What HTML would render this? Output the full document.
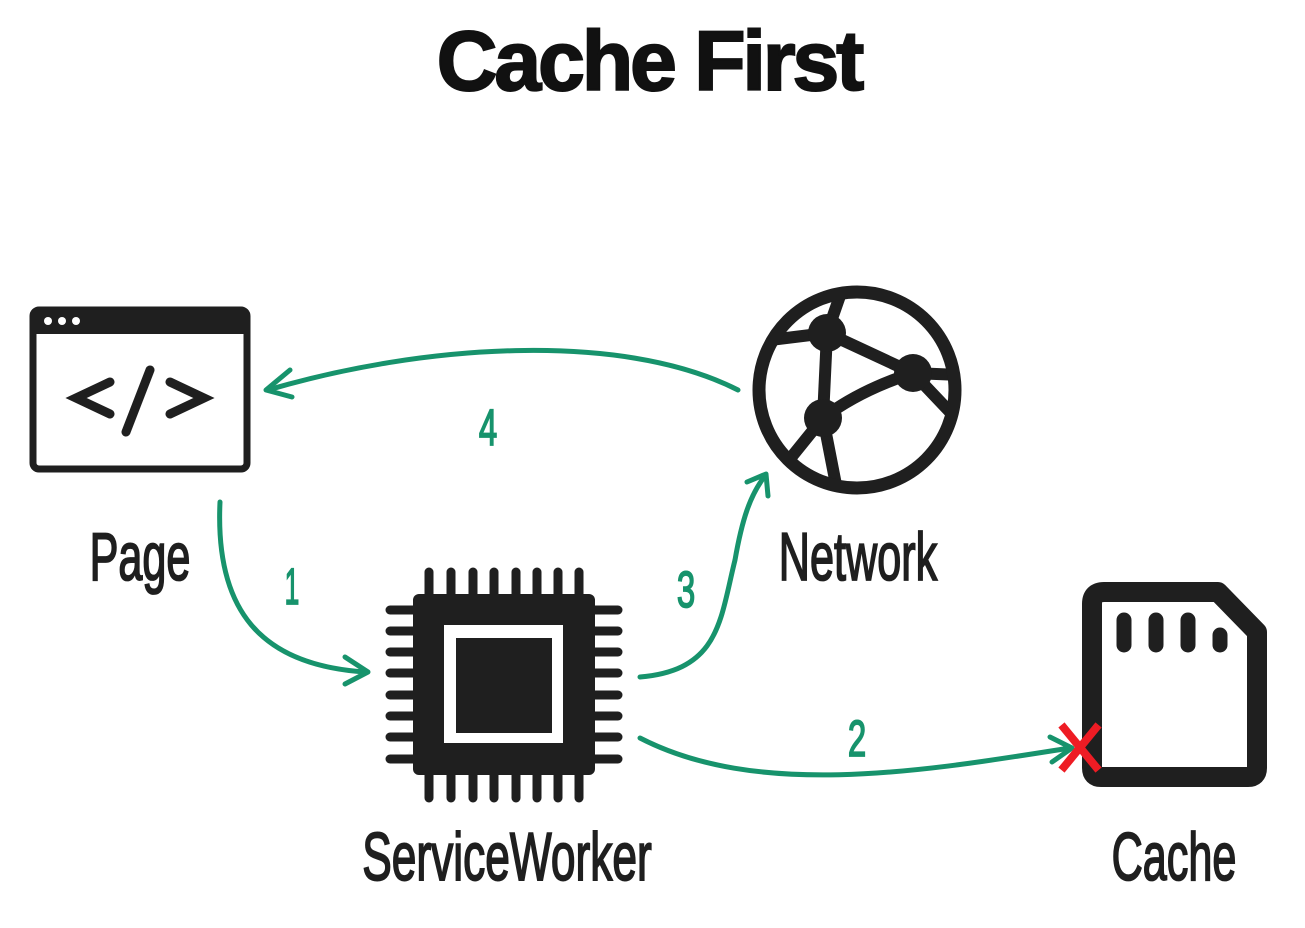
<!DOCTYPE html>
<html><head><style>
html,body{margin:0;padding:0;background:#fff;}
svg{display:block}
.lbl{font-family:"Liberation Sans",sans-serif;font-size:54px;fill:#1f1f1f;stroke:#1f1f1f;stroke-width:1.5px;}
.num{font-family:"Liberation Sans",sans-serif;font-size:44px;fill:#17936c;stroke:#17936c;stroke-width:1.5px;}
</style></head><body>
<svg width="1305" height="928" viewBox="0 0 1305 928" xmlns="http://www.w3.org/2000/svg">
<defs><clipPath id="gc"><circle cx="857" cy="390" r="100"/></clipPath></defs>
<text x="649" y="90" text-anchor="middle" font-family="Liberation Sans,sans-serif" font-weight="bold" font-size="84" fill="#111" stroke="#111" stroke-width="2" letter-spacing="-3">Cache First</text>
<!-- page window -->
<rect x="33" y="310" width="214" height="159" rx="6" fill="#fff" stroke="#1f1f1f" stroke-width="7"/>
<rect x="33" y="310" width="214" height="24" fill="#1f1f1f"/>
<circle cx="48" cy="321" r="4" fill="#fff"/><circle cx="62" cy="321" r="4" fill="#fff"/><circle cx="76" cy="321" r="4" fill="#fff"/>
<g stroke="#1f1f1f" stroke-width="9" stroke-linecap="round" fill="none">
<polyline points="110,382 76,398 110,414"/><line x1="150" y1="370" x2="126" y2="432"/><polyline points="170,382 204,398 170,414"/>
</g>
<!-- globe -->
<g stroke="#1f1f1f" stroke-width="12" fill="none" clip-path="url(#gc)">
<path d="M827 333 L913 373 M827 333 L823 418 M823 418 Q860 390 913 373"/>
<path d="M827 333 L842 290 M827 333 L770 340 M913 373 L960 375 M913 373 L950 412 M823 418 L785 465 M823 418 L838 495"/>
</g>
<circle cx="857" cy="390" r="98" fill="none" stroke="#1f1f1f" stroke-width="13"/>
<circle cx="827" cy="333" r="19" fill="#1f1f1f"/><circle cx="913" cy="373" r="19" fill="#1f1f1f"/><circle cx="823" cy="418" r="19" fill="#1f1f1f"/>
<!-- chip -->
<g stroke="#1f1f1f" stroke-width="9" stroke-linecap="round">
<g id="pt"><line x1="429" y1="572" x2="429" y2="600"/><line x1="451" y1="572" x2="451" y2="600"/><line x1="473" y1="572" x2="473" y2="600"/><line x1="494" y1="572" x2="494" y2="600"/><line x1="516" y1="572" x2="516" y2="600"/><line x1="537" y1="572" x2="537" y2="600"/><line x1="558" y1="572" x2="558" y2="600"/><line x1="579" y1="572" x2="579" y2="600"/></g>
<use href="#pt" transform="translate(0,198)"/>
<g id="pl"><line x1="390" y1="610" x2="420" y2="610"/><line x1="390" y1="631" x2="420" y2="631"/><line x1="390" y1="652" x2="420" y2="652"/><line x1="390" y1="673" x2="420" y2="673"/><line x1="390" y1="695" x2="420" y2="695"/><line x1="390" y1="716" x2="420" y2="716"/><line x1="390" y1="737" x2="420" y2="737"/><line x1="390" y1="759" x2="420" y2="759"/></g>
<use href="#pl" transform="translate(198,0)"/>
</g>
<rect x="413" y="594" width="182" height="181" rx="6" fill="#1f1f1f"/>
<rect x="444" y="625" width="119" height="118" fill="#fff"/>
<rect x="456" y="638" width="96" height="95" fill="#1f1f1f"/>
<!-- sd card -->
<path d="M1104 592 L1218 592 L1257 632 L1257 768 Q1257 777 1248 777 L1101 777 Q1092 777 1092 768 L1092 604 Q1092 592 1104 592 Z" fill="#fff" stroke="#1f1f1f" stroke-width="20" stroke-linejoin="round"/>
<g stroke="#1f1f1f" stroke-width="15" stroke-linecap="round"><line x1="1124" y1="620" x2="1124" y2="645"/><line x1="1156" y1="620" x2="1156" y2="645"/><line x1="1188" y1="620" x2="1188" y2="645"/><line x1="1220" y1="635" x2="1220" y2="645"/></g>
<!-- arrows -->
<g stroke="#17936c" stroke-width="5" fill="none" stroke-linecap="round" stroke-linejoin="round">
<path d="M220 502 C215 610 260 665 365 672"/><polyline points="345,657 368,672 345,684"/>
<path d="M640 677 C720 670 720 620 735 560 C742 520 750 495 765 476"/><polyline points="747,482 766,474 768,496"/>
<path d="M738 390 C620 330 420 345 268 390"/><polyline points="290,370 266,390 292,397"/>
<path d="M640 738 C760 800 930 770 1070 748"/><polyline points="1050,737 1072,748 1052,762"/>
</g>
<g stroke="#ee1c24" stroke-width="8" stroke-linecap="square"><line x1="1064" y1="728" x2="1096" y2="767"/><line x1="1096" y1="728" x2="1064" y2="767"/></g>
<text class="num" text-anchor="middle" transform="translate(488,445) scale(0.75,1.15)">4</text>
<text class="num" text-anchor="middle" transform="translate(292,604) scale(0.6,1.15)">1</text>
<text class="num" text-anchor="middle" transform="translate(686,607) scale(0.75,1.15)">3</text>
<text class="num" text-anchor="middle" transform="translate(857,756) scale(0.75,1.15)">2</text>
<g class="lbl">
<text text-anchor="middle" transform="translate(140,580) scale(0.8,1.25)">Page</text>
<text text-anchor="middle" transform="translate(858,580) scale(0.8,1.25)">Network</text>
<text text-anchor="middle" transform="translate(507,880) scale(0.82,1.25)">ServiceWorker</text>
<text text-anchor="middle" transform="translate(1174,880) scale(0.8,1.25)">Cache</text>
</g>
</svg>
</body></html>
